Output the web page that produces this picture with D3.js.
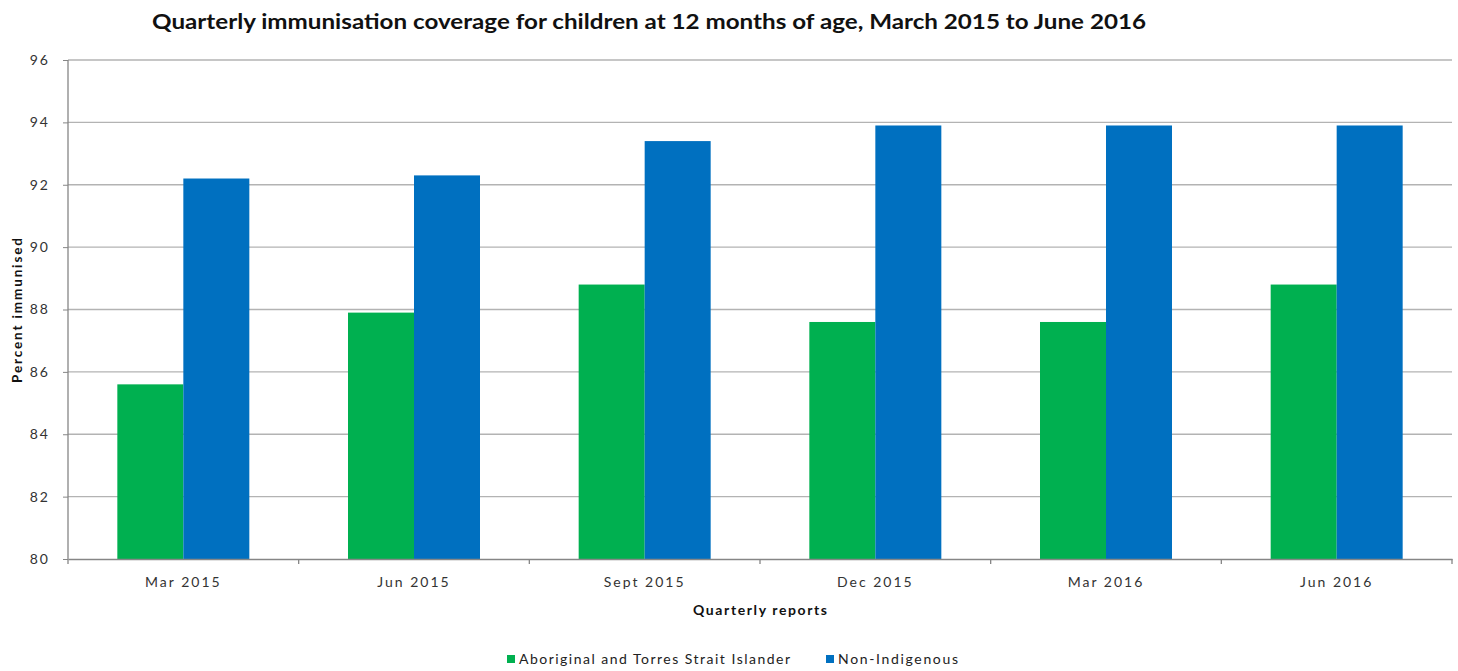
<!DOCTYPE html>
<html><head><meta charset="utf-8">
<script src="https://cdn.jsdelivr.net/npm/d3@7"></script>
<style>body{margin:0;background:#fff}svg{display:block}text{font-family:Lato,"Liberation Sans",sans-serif}</style>
</head><body>
<svg id="c" width="1458" height="671"></svg>
<script>
const categories = ["Mar 2015","Jun 2015","Sept 2015","Dec 2015","Mar 2016","Jun 2016"];
const seriesNames = ["Aboriginal and Torres Strait Islander","Non-Indigenous"];
const aboriginal = [85.6, 87.9, 88.8, 87.6, 87.6, 88.8];
const nonIndigenous = [92.2, 92.3, 93.4, 93.9, 93.9, 93.9];
const yTicks = [80,82,84,86,88,90,92,94,96];
const colors = ["#00b050","#0070c0"];
const title = "Quarterly immunisation coverage for children at 12 months of age, March 2015 to June 2016";

const svg = d3.select("#c");
const m = {l:68, r:1452, t:60, b:559};
const x = d3.scaleBand().domain(categories).range([m.l, m.r]).paddingInner(0).paddingOuter(0);
const y = d3.scaleLinear().domain([80,96]).range([m.b, m.t]);
const inner = 66;
const data = categories.map((c,i)=>({c, v:[aboriginal[i], nonIndigenous[i]]}));

// gridlines
svg.append("g").selectAll("line").data(yTicks.filter(t=>t>80)).join("line")
  .attr("x1", m.l).attr("x2", m.r).attr("y1", d=>y(d)).attr("y2", d=>y(d))
  .attr("stroke", "#b3b3b3").attr("stroke-width", 1.3);

// bars
const g = svg.append("g");
data.forEach(d=>{
  const cx = x(d.c) + x.bandwidth()/2;
  d.v.forEach((v,j)=>{
    g.append("rect").attr("x", cx - inner + j*inner).attr("width", inner)
      .attr("y", y(v)).attr("height", y(80)-y(v)).attr("fill", colors[j]);
  });
});

// y axis
const ya = svg.append("g").attr("transform", `translate(${m.l},0)`)
  .call(d3.axisLeft(y).tickValues(yTicks).tickSize(5).tickPadding(13).tickFormat(d3.format("d")));
ya.select(".domain").attr("stroke","#868686").attr("stroke-width",1.3).attr("d",`M0,${m.t}V${m.b}`);
ya.selectAll(".tick line").attr("stroke","#868686");
ya.selectAll(".tick text").attr("font-size",14).attr("letter-spacing","2px").attr("fill","#333").attr("font-family","Lato, sans-serif");

// x axis
const xa = svg.append("g").attr("transform", `translate(0,${m.b})`)
  .call(d3.axisBottom(x).tickSize(0).tickPadding(18));
xa.select(".domain").attr("stroke","#868686").attr("stroke-width",1.3);
xa.selectAll(".tick text").attr("font-size",14).attr("letter-spacing","2px").attr("fill","#333").attr("font-family","Lato, sans-serif");
// category boundary ticks
svg.append("g").selectAll("line").data(d3.range(categories.length+1)).join("line")
  .attr("x1", i=>m.l + i*x.step()).attr("x2", i=>m.l + i*x.step())
  .attr("y1", m.b).attr("y2", m.b+5).attr("stroke","#868686").attr("stroke-width",1.3);

// title
svg.append("text").attr("x", 152).attr("y", 29)
  .attr("font-size",21).attr("font-weight","bold").attr("fill","#111")
  .attr("textLength", 994).attr("lengthAdjust","spacingAndGlyphs").text(title);
// axis titles
svg.append("text").attr("x", 693).attr("y", 615)
  .attr("font-size",14).attr("font-weight","bold").attr("fill","#111")
  .attr("textLength", 134).attr("lengthAdjust","spacing").text("Quarterly reports");
svg.append("text").attr("transform","translate(22,383) rotate(-90)")
  .attr("font-size",13.5).attr("font-weight","bold").attr("fill","#111")
  .attr("textLength", 145).attr("lengthAdjust","spacing").text("Percent immunised");

// legend
const leg = svg.append("g");
const lx = [507, 826];
const lw = [271, 120];
seriesNames.forEach((s,i)=>{
  leg.append("rect").attr("x", lx[i]).attr("y", 655).attr("width",8).attr("height",8).attr("fill",colors[i]);
  leg.append("text").attr("x", lx[i]+12).attr("y", 664).attr("font-size",14).attr("fill","#222")
    .attr("textLength", lw[i]).attr("lengthAdjust","spacing").text(s);
});
</script>
</body></html>
